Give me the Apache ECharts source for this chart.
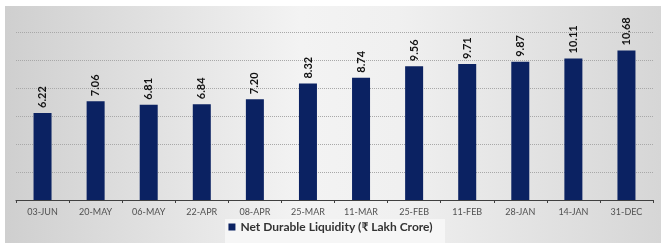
<!DOCTYPE html>
<html><head><meta charset="utf-8">
<script src="https://cdn.jsdelivr.net/npm/echarts@6/dist/echarts.min.js"></script>
<style>html,body{margin:0;padding:0;background:#fff}#c{width:661px;height:243px}</style>
</head><body><div id="c"></div>
<script>
const categories = ['03-JUN','20-MAY','06-MAY','22-APR','08-APR','25-MAR','11-MAR','25-FEB','11-FEB','28-JAN','14-JAN','31-DEC'];
const liquidity = [6.22,7.06,6.81,6.84,7.20,8.32,8.74,9.56,9.71,9.87,10.11,10.68];
const seriesName = 'Net Durable Liquidity (₹ Lakh Crore)';
const yTicks = {min:0,max:12,interval:2};

const FONT = 'Lato, "Noto Sans", sans-serif';
const chart = echarts.init(document.getElementById('c'), null, {renderer:'canvas'});
chart.setOption({
  animation:false,
  backgroundColor:'#fff',
  graphic:[
    {type:'rect',z:-10,silent:true,shape:{x:5,y:6,width:656,height:237},
     style:{fill:new echarts.graphic.LinearGradient(0,0,1,0,[
       {offset:0,color:'#cfcfcf'},{offset:0.45,color:'#f3f3f3'},{offset:0.6,color:'#f0f0f0'},{offset:1,color:'#d6d6d6'}])}},
    {type:'rect',z:-9,silent:true,shape:{x:225,y:219,width:220,height:24},style:{fill:'#f6f6f6'}}
  ],
  grid:{left:16,right:8,top:32,bottom:43},
  legend:{bottom:5,left:'center',icon:'rect',itemWidth:7,itemHeight:7,itemGap:5,
    textStyle:{fontFamily:FONT,fontWeight:'bold',fontSize:12,color:'#333'},data:[seriesName]},
  xAxis:{type:'category',data:categories,
    axisLine:{lineStyle:{color:'#404040',width:1}},
    axisTick:{show:true,length:3,lineStyle:{color:'#404040'}},
    axisLabel:{color:'#505050',fontSize:9,fontFamily:FONT,margin:8}},
  yAxis:{type:'value',min:yTicks.min,max:yTicks.max,interval:yTicks.interval,
    axisLabel:{show:false},axisLine:{show:false},axisTick:{show:false},
    splitLine:{lineStyle:{color:'#a8a8a8',type:'dotted',width:1}}},
  series:[{name:seriesName,type:'bar',data:liquidity,barWidth:18,
    itemStyle:{color:'#0b2262'},
    label:{show:true,position:'top',rotate:90,align:'left',verticalAlign:'middle',distance:5,
      formatter:p=>p.value.toFixed(2),
      fontFamily:FONT,fontWeight:'bold',fontSize:11,color:'#111'}}]
});
</script></body></html>
